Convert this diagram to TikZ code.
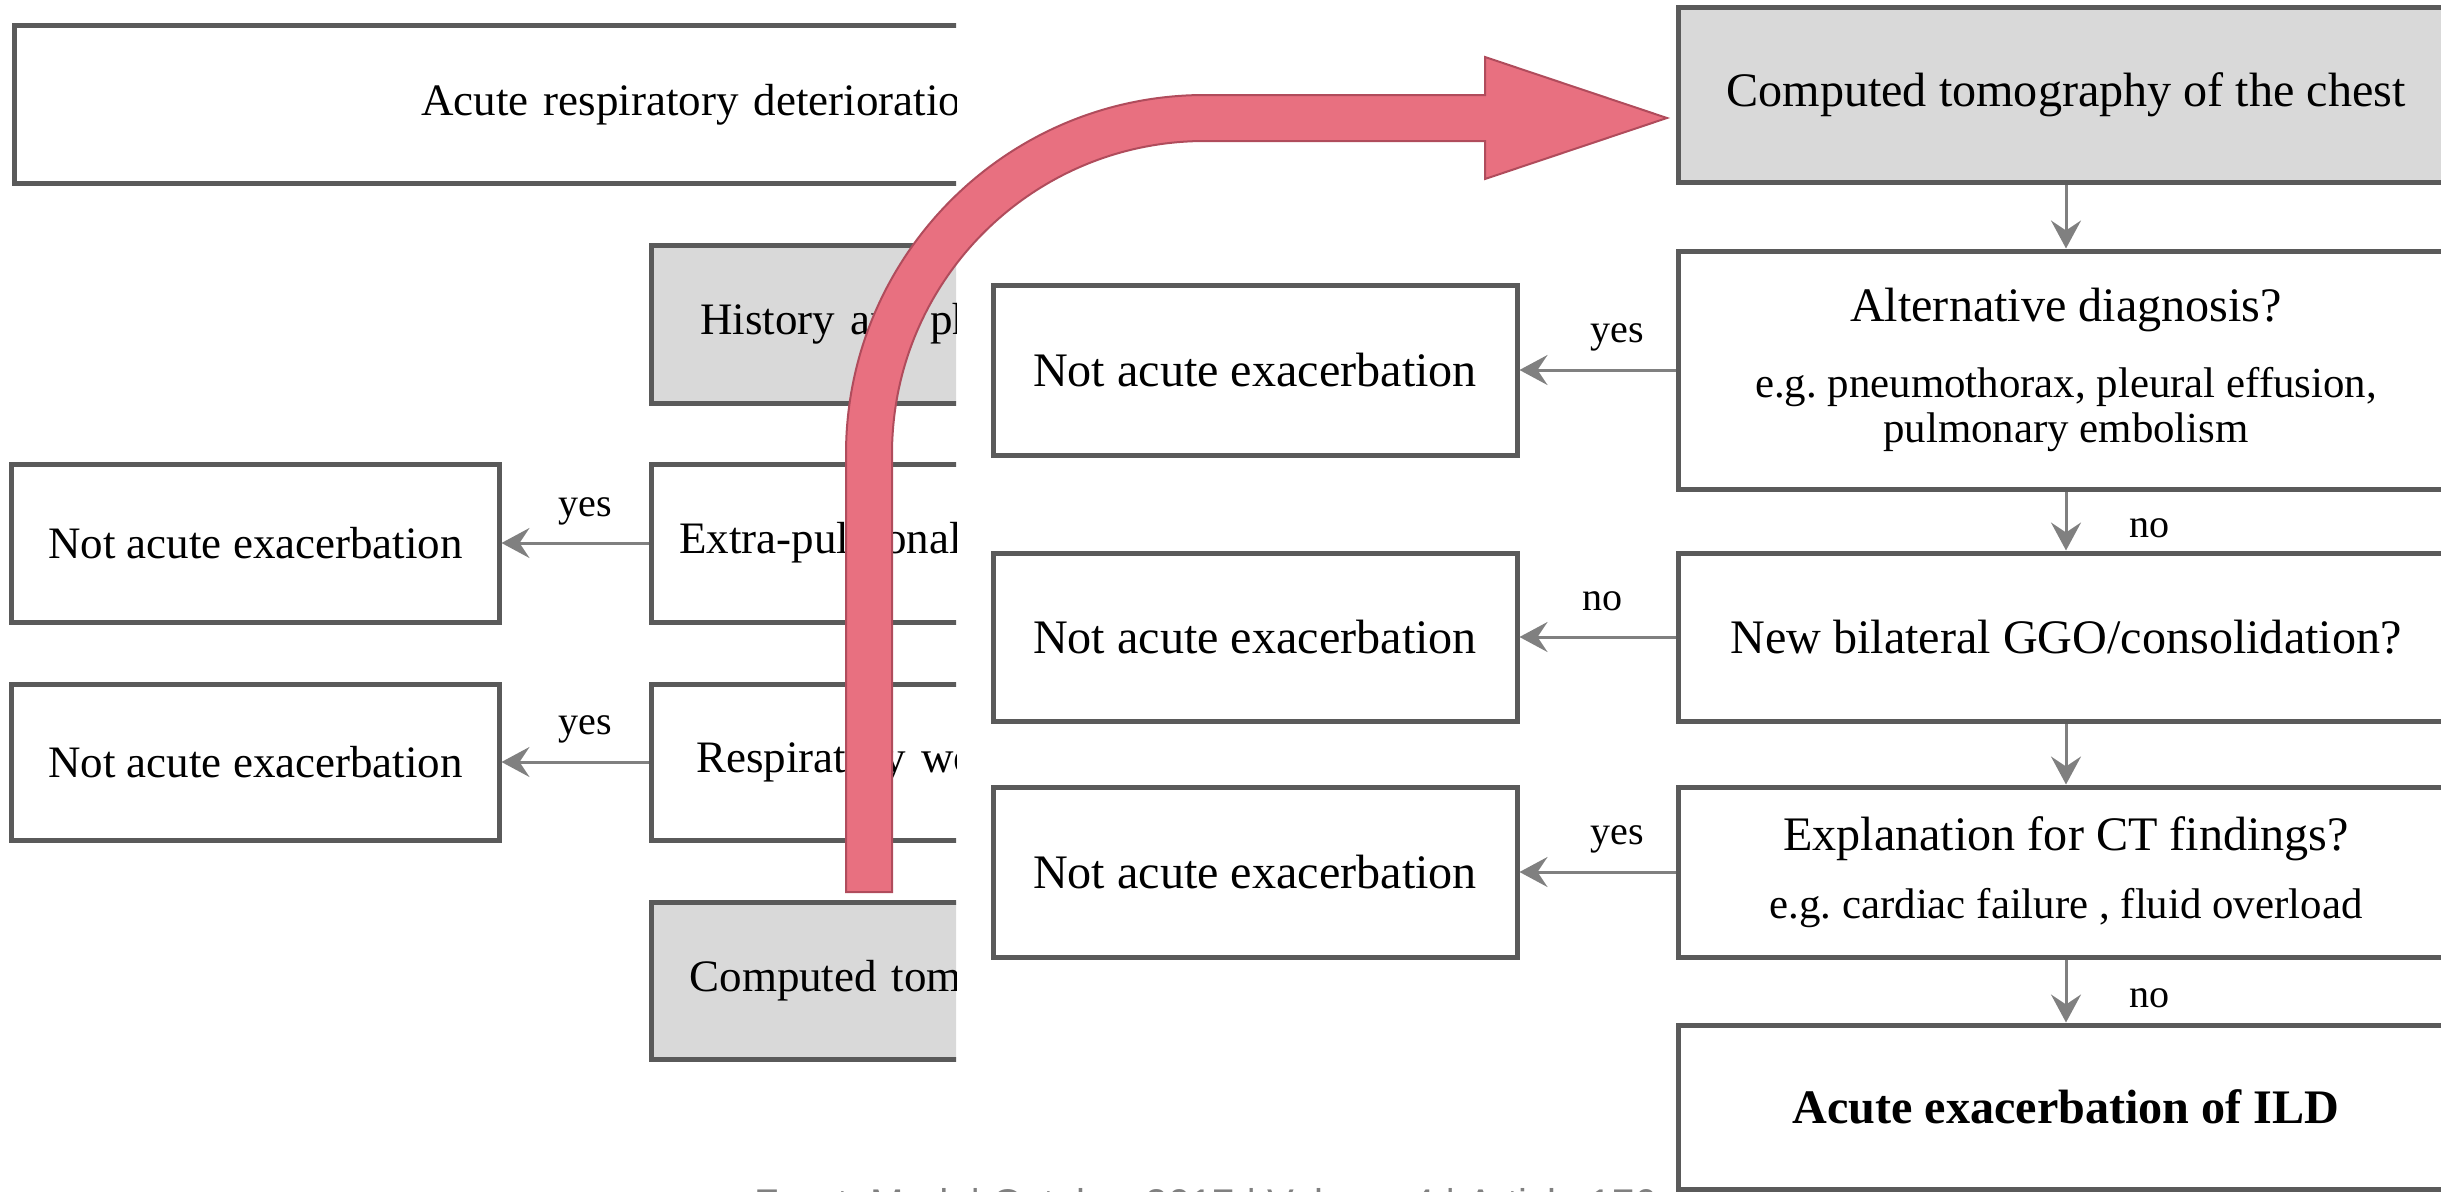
\documentclass[tikz,border=0pt]{standalone}
\usepackage{fontspec}
\setmainfont{Liberation Serif}
\newfontfamily\footfont{Liberation Sans}
\usetikzlibrary{arrows.meta}
\definecolor{frame}{HTML}{5A5A5A}
\definecolor{shade}{HTML}{D9D9D9}
\definecolor{linkgrey}{HTML}{808080}
\definecolor{bigarrow}{HTML}{E87080}
\definecolor{bigedge}{HTML}{B04C5C}
\newcommand{\egtext}{\fontsize{12.2}{12.5}\selectfont}

\begin{document}
\frenchspacing
\begin{tikzpicture}[
  chartbox/.style = {draw = frame, line width = 0.05cm, fill = white, inner sep = 0pt},
  greybox/.style = {chartbox, fill = shade},
  cutbox/.style = {anchor = west, align = left, text width = 8cm, inner xsep = #1},
  lefttext/.style = {font = \fontsize{12.8}{15}\selectfont},
  righttext/.style = {font = \fontsize{13.7}{16}\selectfont},
  linkarrow/.style = {draw = linkgrey, line width = 0.03cm,
    -{Stealth[length = 0.28cm, width = 0.3cm, inset = 0.1cm]}},
  answer/.style = {font = \fontsize{11.4}{13}\selectfont}]
\useasboundingbox (0, 0) rectangle (24.41, -11.92);
\clip (0, 0) rectangle (24.41, -11.92);

% left part, cut off at its right side
\begin{scope}
\clip (0, 0) rectangle (9.56, -11.92);
\node[chartbox, cutbox = 4.07cm, lefttext, minimum height = 1.57cm] (deterioration) at (0.12, -1.045) {Acute respiratory deterioration};
\node[greybox, cutbox = 0.49cm, lefttext, minimum height = 1.58cm] (history) at (6.49, -3.24) {History and physical};
\node[chartbox, cutbox = 0.28cm, lefttext, minimum height = 1.58cm] (extrapulm) at (6.49, -5.43) {Extra-pulmonal};
\node[chartbox, cutbox = 0.45cm, lefttext, minimum height = 1.56cm] (worsening) at (6.49, -7.62) {Respiratory worsening};
\node[greybox, cutbox = 0.38cm, lefttext, minimum height = 1.57cm] (ctleft) at (6.49, -9.805) {Computed tomography};
\node[chartbox, lefttext, minimum width = 4.87cm, minimum height = 1.58cm] (notleftA) at (2.555, -5.43) {Not acute exacerbation};
\node[chartbox, lefttext, minimum width = 4.87cm, minimum height = 1.56cm] (notleftB) at (2.555, -7.62) {Not acute exacerbation};
\draw[linkarrow] (extrapulm.west) -- node[answer, above = 0.5mm, xshift = 1mm] {yes} (notleftA.east);
\draw[linkarrow] (worsening.west) -- node[answer, above = 0.6mm, xshift = 1mm] {yes} (notleftB.east);
\end{scope}

% right part
\node[greybox, righttext, minimum width = 7.76cm, minimum height = 1.74cm] (ctchest) at (20.66, -0.95) {Computed tomography of the chest};
\node[chartbox, righttext, align = center, minimum width = 7.76cm, minimum height = 2.38cm] (altdiag) at (20.66, -3.70)
  {Alternative diagnosis?\\[0.20cm]\egtext e.g. pneumothorax, pleural effusion,\\[-0.11cm]\egtext pulmonary embolism};
\node[chartbox, righttext, minimum width = 7.76cm, minimum height = 1.68cm] (newbil) at (20.66, -6.37) {New bilateral GGO/consolidation?};
\node[chartbox, righttext, align = center, minimum width = 7.76cm, minimum height = 1.70cm] (explain) at (20.66, -8.72)
  {Explanation for CT findings?\\[0.12cm]\egtext e.g. cardiac failure , fluid overload};
\node[chartbox, font = \fontsize{13.7}{16}\selectfont\bfseries, minimum width = 7.76cm, minimum height = 1.64cm] (aeild) at (20.66, -11.07) {Acute exacerbation of ILD};
\node[chartbox, righttext, minimum width = 5.24cm, minimum height = 1.70cm] (notA) at (12.55, -3.70) {Not acute exacerbation};
\node[chartbox, righttext, minimum width = 5.24cm, minimum height = 1.68cm] (notB) at (12.55, -6.37) {Not acute exacerbation};
\node[chartbox, righttext, minimum width = 5.24cm, minimum height = 1.70cm] (notC) at (12.55, -8.72) {Not acute exacerbation};

\draw[linkarrow] (ctchest) -- (altdiag);
\draw[linkarrow] (altdiag) -- node[answer, right = 0.5cm, yshift = -0.7mm] {no} (newbil);
\draw[linkarrow] (newbil) -- (explain);
\draw[linkarrow] (explain) -- node[answer, right = 0.5cm, yshift = -0.7mm] {no} (aeild);
\draw[linkarrow] (altdiag.west) -- node[answer, above = 0.6mm, xshift = 2mm] {yes} (notA.east);
\draw[linkarrow] (newbil.west) -- node[answer, above = 1.3mm, xshift = 0.5mm] {no} (notB.east);
\draw[linkarrow] (explain.west) -- node[answer, above = 0.6mm, xshift = 2mm] {yes} (notC.east);

\node[anchor = base west, text = gray, font = \footfont\fontsize{11.4}{13}\selectfont, inner sep = 0pt] (footer) at (7.54, -12.17) {Front. Med. | October 2017 | Volume 4 | Article 176};

% big bent arrow over both parts
\draw[fill = bigarrow, draw = bigedge, line width = 0.02cm]
  (8.46, -8.92) -- (8.46, -4.54) arc[start angle = 180, end angle = 90, radius = 3.59]
  -- (14.85, -0.95) -- (14.85, -0.57) -- (16.67, -1.18) -- (14.85, -1.79) -- (14.85, -1.41)
  -- (12.05, -1.41) arc[start angle = 90, end angle = 180, radius = 3.13]
  -- (8.92, -8.92) -- cycle;
\end{tikzpicture}
\end{document}
